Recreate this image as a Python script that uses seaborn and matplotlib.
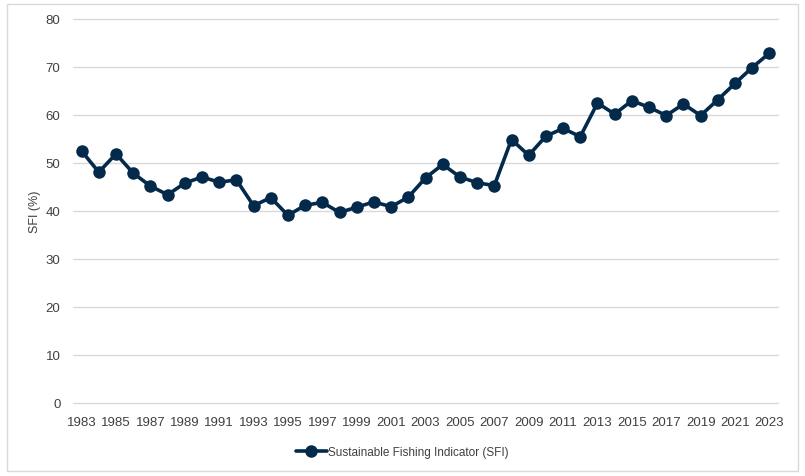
import seaborn as sns
import matplotlib.pyplot as plt
import pandas as pd
from matplotlib.patches import Rectangle

# data
years = list(range(1983, 2024))
sfi = [52.4, 48.0, 51.8, 47.8, 45.1, 43.3, 45.7, 47.0, 45.9, 46.4,
       41.0, 42.7, 39.0, 41.1, 41.7, 39.6, 40.7, 41.8, 40.8, 42.8,
       46.8, 49.6, 47.0, 45.8, 45.2, 54.8, 51.5, 55.5, 57.1, 55.4,
       62.4, 60.1, 62.9, 61.5, 59.8, 62.2, 59.8, 63.1, 66.5, 69.8, 72.8]
tick_years = [str(y) for y in years[::2]]
series_name = "Sustainable Fishing Indicator (SFI)"

sns.set_theme(style="white")
plt.rcParams['font.family'] = ['Liberation Sans', 'DejaVu Sans']

df = pd.DataFrame({"pos": range(len(years)), "SFI": sfi, "series": series_name})

fig = plt.figure(figsize=(8.05, 4.77), dpi=100)
ax = fig.add_axes([0.0907, 0.154, 0.8758, 0.805])

navy = "#03294B"
sns.lineplot(data=df, x="pos", y="SFI", hue="series", palette=[navy],
             marker="o", markersize=9, markeredgewidth=0, linewidth=2.6, ax=ax)

ax.set_xlim(-0.5, len(years) - 0.5)
ax.set_ylim(0, 80)
ax.set_yticks(range(0, 81, 10))
ax.set_xticks(range(0, len(years), 2))
ax.set_xticklabels(tick_years)
ax.tick_params(axis="both", labelsize=9.5, colors="#404040", length=0)
ax.tick_params(axis="y", pad=9)
ax.tick_params(axis="x", pad=10)
ax.grid(axis="y", color="#D9D9D9", linewidth=1)
for gl in ax.get_ygridlines():
    gl.set_clip_on(False)
ax.set_axisbelow(True)
for s in ax.spines.values():
    s.set_visible(False)
ax.set_xlabel("")
ax.set_ylabel("SFI (%)", fontsize=9, color="#404040")
ax.yaxis.set_label_coords(-0.045, 0.5)

# legend centred on the whole chart area, not the plot area
ax.legend(loc="upper center", bbox_to_anchor=(0.467, -0.085), frameon=False,
          fontsize=8.5, handlelength=2.6, handletextpad=0.1,
          labelcolor="#404040")

# light outer border like the chart area frame
fig.patches.append(Rectangle((0.009, 0.01), 0.982, 0.98, transform=fig.transFigure,
                             fill=False, edgecolor="#D9D9D9", linewidth=1))

fig.savefig("out.png", dpi=100)
